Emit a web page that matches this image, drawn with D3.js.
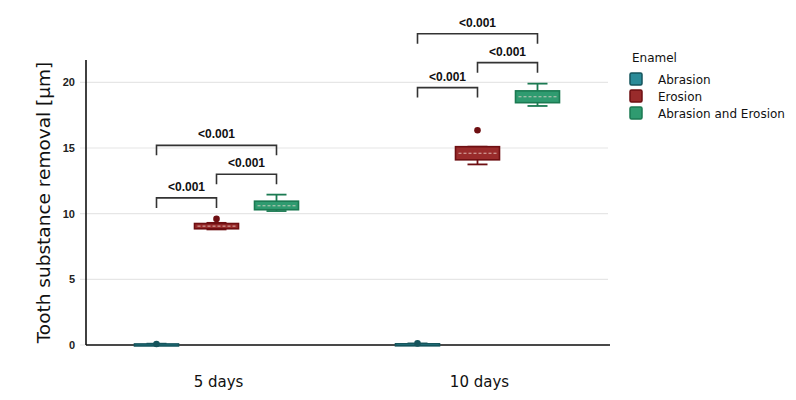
<!DOCTYPE html>
<html>
<head>
<meta charset="utf-8">
<script src="https://cdn.jsdelivr.net/npm/d3@7"></script>
<style>
  body { margin: 0; background: #fff; }
</style>
</head>
<body>
<div id="chart"></div>
<script>
// data
var days = ["5 days", "10 days"];
var groups = ["Abrasion", "Erosion", "Abrasion and Erosion"];
var fills = ["#2b8b98", "#992b2b", "#2f9b70"];
var strokes = ["#15545c", "#6e0f12", "#1b7a52"];
var yTicks = [0, 5, 10, 15, 20];

// [min, q1, median, q3, max]
var stats5 = [[0, 0.02, 0.05, 0.08, 0.1], [8.8, 8.85, 9.05, 9.25, 9.3], [10.2, 10.3, 10.6, 10.95, 11.45]];
var stats10 = [[0, 0.03, 0.06, 0.09, 0.12], [13.75, 14.1, 14.6, 15.1, 15.1], [18.2, 18.45, 18.9, 19.35, 19.9]];
var outliers5 = [[0.08], [9.6], []];
var outliers10 = [[0.12], [16.35], []];

// significance brackets: [group from, group to, height]
var brackets5 = [[0, 1, 11.2], [1, 2, 13.0], [0, 2, 15.2]];
var brackets10 = [[0, 1, 19.6], [1, 2, 21.5], [0, 2, 23.7]];
var pLabel = "<0.001";

var width = 796, height = 400;
var margin = { top: 60, right: 188, bottom: 55, left: 86 };

var svg = d3.select("#chart").append("svg")
    .attr("width", width).attr("height", height);

var x = d3.scaleBand().domain(days).range([margin.left, width - margin.right]);
var xg = d3.scaleBand().domain(groups).range([-90, 90]);
var y = d3.scaleLinear().domain([0, 21.7]).range([height - margin.bottom, margin.top]);

// grid
svg.append("g").selectAll("line").data(yTicks).join("line")
    .attr("x1", margin.left - 6).attr("x2", width - margin.right)
    .attr("y1", d => y(d)).attr("y2", d => y(d))
    .attr("stroke", "#e6e6e6").attr("stroke-width", 1.2);

// tick labels
svg.append("g").selectAll("text").data(yTicks).join("text")
    .attr("x", margin.left - 11).attr("y", d => y(d) + 4)
    .attr("text-anchor", "end")
    .style("font-family", "Liberation Sans, Arial, sans-serif")
    .style("font-weight", "bold").style("font-size", "11px")
    .attr("fill", "#222")
    .text(d => d);

// axes lines
svg.append("line")
    .attr("x1", margin.left).attr("x2", margin.left)
    .attr("y1", margin.top).attr("y2", y(0))
    .attr("stroke", "#111").attr("stroke-width", 1.6);
svg.append("line")
    .attr("x1", margin.left).attr("x2", width - margin.right + 2)
    .attr("y1", y(0)).attr("y2", y(0))
    .attr("stroke", "#111").attr("stroke-width", 1.6);

// x labels
svg.append("g").selectAll("text").data(days).join("text")
    .attr("x", d => x(d) + x.bandwidth() / 2 + 2)
    .attr("y", y(0) + 42)
    .attr("text-anchor", "middle")
    .style("font-family", "DejaVu Sans, Verdana, sans-serif")
    .style("font-size", "15px").attr("fill", "#111")
    .text(d => d);

// y title
svg.append("text")
    .attr("transform", "translate(50," + (y(0) + y(21.7)) / 2 + ") rotate(-90)")
    .attr("text-anchor", "middle")
    .style("font-family", "DejaVu Sans, Verdana, sans-serif")
    .style("font-size", "18.5px").attr("fill", "#111")
    .text("Tooth substance removal [µm]");

var boxW = 44, capW = 20;

function center(day, gi) {
    return x(day) + x.bandwidth() / 2 + xg(groups[gi]) + xg.bandwidth() / 2;
}

function drawDay(day, stats, outs, brackets) {
    var g = svg.append("g");
    stats.forEach(function (s, i) {
        var cx = center(day, i);
        // whiskers
        g.append("line").attr("x1", cx).attr("x2", cx)
            .attr("y1", y(s[0])).attr("y2", y(s[4]))
            .attr("stroke", strokes[i]).attr("stroke-width", 1.8);
        [s[0], s[4]].forEach(function (v) {
            g.append("line").attr("x1", cx - capW / 2).attr("x2", cx + capW / 2)
                .attr("y1", y(v)).attr("y2", y(v))
                .attr("stroke", strokes[i]).attr("stroke-width", 1.8);
        });
        var bh = Math.max(y(s[1]) - y(s[3]), 2);
        g.append("rect")
            .attr("x", cx - boxW / 2).attr("y", y(s[3]))
            .attr("width", boxW).attr("height", bh)
            .attr("fill", fills[i]).attr("stroke", strokes[i]).attr("stroke-width", 1.6);
        g.append("line").attr("x1", cx - boxW / 2 + 3).attr("x2", cx + boxW / 2 - 3)
            .attr("y1", y(s[2])).attr("y2", y(s[2]))
            .attr("stroke", "#f0d8d0").attr("stroke-width", 1)
            .attr("stroke-dasharray", "3,2").attr("opacity", bh > 4 ? 0.8 : 0);
        outs[i].forEach(function (v) {
            g.append("circle").attr("cx", cx).attr("cy", y(v)).attr("r", 3.3)
                .attr("fill", strokes[i]);
        });
    });
    brackets.forEach(function (b) {
        var c0 = center(day, b[0]);
        var c1 = center(day, b[1]);
        var yy = y(b[2]);
        g.append("path")
            .attr("d", "M" + c0 + "," + (yy + 10) + "V" + yy + "H" + c1 + "V" + (yy + 10))
            .attr("fill", "none").attr("stroke", "#333").attr("stroke-width", 1.6);
        g.append("text")
            .attr("x", (c0 + c1) / 2).attr("y", yy - 7)
            .attr("text-anchor", "middle")
            .style("font-family", "Liberation Sans, Arial, sans-serif")
            .style("font-weight", "bold").style("font-size", "12px")
            .attr("fill", "#111")
            .text(pLabel);
    });
}
drawDay(days[0], stats5, outliers5, brackets5);
drawDay(days[1], stats10, outliers10, brackets10);

// legend
var lg = svg.append("g").attr("transform", "translate(629,0)");
lg.append("text").attr("x", 3).attr("y", 62)
    .style("font-family", "DejaVu Sans, Verdana, sans-serif")
    .style("font-size", "12px").attr("fill", "#111").text("Enamel");
groups.forEach(function (gname, i) {
    var yy = 79 + i * 17;
    lg.append("rect").attr("x", 1).attr("y", yy - 6).attr("width", 12).attr("height", 12)
        .attr("rx", 1.5)
        .attr("fill", fills[i]).attr("stroke", strokes[i]).attr("stroke-width", 1.5);
    lg.append("text").attr("x", 29).attr("y", yy + 5)
        .style("font-family", "DejaVu Sans, Verdana, sans-serif")
        .style("font-size", "12px").attr("fill", "#111").text(gname);
});
</script>
</body>
</html>
